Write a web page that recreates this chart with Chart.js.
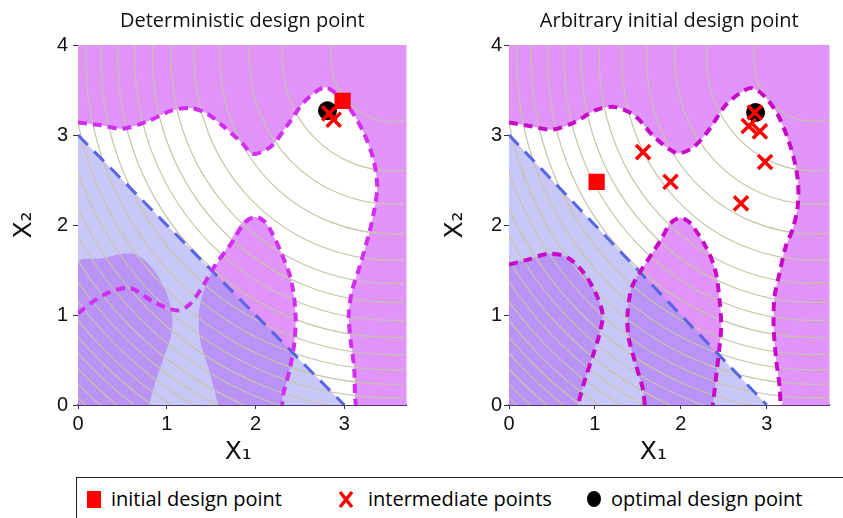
<!DOCTYPE html>
<html>
<head>
<meta charset="utf-8">
<script src="https://cdn.jsdelivr.net/npm/chart.js@4.4.0/dist/chart.umd.min.js"></script>
<style>
  body { margin: 0; width: 843px; height: 518px; overflow: hidden; background: #fff; position: relative; }
  #graficoEsq { position: absolute; left: 0; top: 0; }
  #graficoDir { position: absolute; left: 420px; top: 0; }
  #legenda { position: absolute; left: 76px; top: 477px; width: 800px; height: 60px; border: 1px solid #222; box-sizing: border-box; }
  #legenda .item { position: absolute; top: 8px; font-family: 'Open Sans', sans-serif; font-size: 20px; color: #000; line-height: 26px; white-space: nowrap; }
  #legenda .quadrado { position: absolute; top: 13px; width: 14px; height: 17px; background: #ff0000; }
  #legenda .circulo { position: absolute; top: 13px; width: 14px; height: 16px; border-radius: 50%; background: #000; }
  #legenda svg { position: absolute; top: 12px; }
</style>
</head>
<body>
<canvas id="graficoEsq" width="420" height="470"></canvas>
<canvas id="graficoDir" width="423" height="470"></canvas>
<div id="legenda">
  <span class="quadrado" style="left:10px"></span>
  <span class="item" style="left:34px">initial design point</span>
  <svg style="left:261px" width="16" height="19"><path d="M2 2 L14 17 M14 2 L2 17" stroke="#ff0000" stroke-width="3.4" fill="none"/></svg>
  <span class="item" style="left:291px">intermediate points</span>
  <span class="circulo" style="left:510px"></span>
  <span class="item" style="left:534px">optimal design point</span>
</div>
<script>
// curvas de nivel da funcao objetivo (circulos)
const centroNivel = [3.55, 3.85]
const raiosNivel = [0.70, 1.25, 1.62, 1.95, 2.24, 2.50, 2.71, 2.91, 3.10, 3.29, 3.46, 3.62, 3.77, 3.92, 4.06, 4.20, 4.33, 4.46, 4.59, 4.71, 4.83, 4.95, 5.07, 5.18, 5.29]

const retaAzul = [[0, 3], [3, 0]]
const trianguloAzul = [[0, 0], [0, 3], [3, 0]]

// painel esquerdo
const esqTopo = [[0, 3.14], [0.25, 3.11], [0.50, 3.07], [0.78, 3.15], [1.05, 3.27], [1.26, 3.30], [1.45, 3.24], [1.62, 3.11], [1.84, 2.92], [1.97, 2.79], [2.17, 2.87], [2.36, 3.11], [2.55, 3.37], [2.77, 3.53], [2.88, 3.48], [3.07, 3.28], [3.22, 3.02], [3.33, 2.72], [3.37, 2.42], [3.33, 2.13]]
const esqDireita = [[3.28, 1.91], [3.17, 1.53], [3.09, 1.28], [3.05, 1.02], [3.07, 0.72], [3.11, 0.42], [3.12, 0.09], [3.13, 0]]
const esqLobuloA = [[0, 0], [0, 1.58], [0.28, 1.63], [0.50, 1.68], [0.66, 1.67], [0.84, 1.52], [0.99, 1.26], [1.06, 1.0], [1.05, 0.78], [0.95, 0.48], [0.86, 0.22], [0.80, 0]]
const esqLobuloB = [[1.58, 0], [1.55, 0.11], [1.47, 0.41], [1.38, 0.70], [1.36, 1.0], [1.40, 1.22], [1.51, 1.48], [1.66, 1.72], [1.81, 1.98], [1.92, 2.08], [2.0, 2.09], [2.10, 2.04], [2.17, 1.94], [2.29, 1.69], [2.40, 1.39], [2.45, 1.02], [2.44, 0.72], [2.39, 0.42], [2.31, 0.11], [2.30, 0]]
const esqLimiteLobulo = [[0, 1.02], [0.28, 1.22], [0.58, 1.30], [0.86, 1.14], [1.12, 1.05], [1.26, 1.12], [1.38, 1.28], [1.55, 1.56], [1.73, 1.80], [1.88, 2.03], [2.0, 2.09], [2.10, 2.04], [2.17, 1.94], [2.29, 1.69], [2.40, 1.39], [2.45, 1.02], [2.44, 0.72], [2.39, 0.42], [2.31, 0.11], [2.30, 0]]
const esqInicial = [[2.98, 3.38]]
const esqIntermediarios = [[2.83, 3.24], [2.88, 3.17]]
const esqOtimo = [[2.81, 3.27]]

// painel direito
const dirTopo = [[0, 3.14], [0.24, 3.10], [0.50, 3.06], [0.76, 3.14], [1.02, 3.28], [1.24, 3.31], [1.47, 3.21], [1.69, 2.98], [1.95, 2.80], [2.14, 2.86], [2.33, 3.06], [2.53, 3.34], [2.80, 3.52], [2.94, 3.46], [3.12, 3.24], [3.28, 2.86], [3.36, 2.51], [3.36, 2.21]]
const dirDireita = [[3.30, 1.95], [3.22, 1.76], [3.15, 1.47], [3.09, 1.20], [3.08, 0.87], [3.11, 0.50], [3.15, 0.20], [3.16, 0]]
const dirLobuloA = [[0, 0], [0, 1.56], [0.20, 1.61], [0.46, 1.68], [0.68, 1.64], [0.87, 1.47], [1.02, 1.22], [1.09, 1.0], [1.05, 0.78], [0.98, 0.56], [0.89, 0.30], [0.81, 0.03], [0.80, 0]]
const dirLobuloB = [[1.58, 0], [1.56, 0.17], [1.47, 0.47], [1.39, 0.76], [1.38, 1.02], [1.43, 1.31], [1.54, 1.50], [1.67, 1.69], [1.77, 1.84], [1.88, 2.02], [1.99, 2.08], [2.10, 2.03], [2.29, 1.76], [2.40, 1.50], [2.45, 1.17], [2.47, 0.87], [2.45, 0.65], [2.42, 0.39], [2.38, 0.06], [2.37, 0]]
const dirInicial = [[1.02, 2.48]]
const dirIntermediarios = [[1.56, 2.81], [1.88, 2.48], [2.70, 2.24], [2.98, 2.70], [2.92, 3.04], [2.79, 3.10], [2.86, 3.25]]
const dirOtimo = [[2.87, 3.25]]

const corInviavel = '#e194f9'

function pontos(lista) {
  return lista.map(p => ({ x: p[0], y: p[1] }))
}

const fundo = {
  id: 'fundo',
  beforeDatasetsDraw(chart) {
    const { ctx, chartArea: a } = chart
    ctx.save()
    ctx.fillStyle = corInviavel
    ctx.fillRect(a.left, a.top, a.width, a.height)
    ctx.restore()
  }
}

const curvasNivel = {
  id: 'curvasNivel',
  afterDatasetDraw(chart, args) {
    if (chart.data.datasets[args.index].label !== 'regiao azul') return
    const { ctx, chartArea: a, scales: { x, y } } = chart
    const cx = x.getPixelForValue(centroNivel[0])
    const cy = y.getPixelForValue(centroNivel[1])
    ctx.save()
    ctx.beginPath()
    ctx.rect(a.left, a.top, a.width, a.height)
    ctx.clip()
    ctx.strokeStyle = 'rgb(200,196,170)'
    ctx.lineWidth = 1.2
    raiosNivel.forEach(r => {
      const rx = x.getPixelForValue(centroNivel[0] + r) - cx
      const ry = cy - y.getPixelForValue(centroNivel[1] + r)
      ctx.beginPath()
      ctx.ellipse(cx, cy, rx, ry, 0, 0, Math.PI * 2)
      ctx.stroke()
    })
    ctx.restore()
  }
}

function regiao(label, lista, cor, tensao, ordem) {
  return { label: label, data: pontos(lista), fill: 'shape', backgroundColor: cor, borderColor: 'rgba(0,0,0,0)', borderWidth: 0, pointRadius: 0, tension: tensao, order: ordem }
}

function tracejado(lista, cor, largura, traco, tensao, ordem) {
  return { label: 'limite', data: pontos(lista), fill: false, borderColor: cor, borderWidth: largura, borderDash: traco, pointRadius: 0, tension: tensao, order: ordem }
}

function criaGrafico(id, p) {
  const datasets = [
    { label: 'intermediate points', data: pontos(p.intermediarios), showLine: false, pointStyle: 'crossRot', pointRadius: 10, pointBorderWidth: 3.5, borderColor: '#ff0000', backgroundColor: '#ff0000', order: 0 },
    { label: 'optimal design point', data: pontos(p.otimo), showLine: false, pointStyle: 'circle', pointRadius: 9, pointBorderWidth: 1, borderColor: '#000', backgroundColor: '#000', order: 1 },
    { label: 'initial design point', data: pontos(p.inicial), showLine: false, pointStyle: 'rect', pointRadius: 11.5, pointBorderWidth: 0, borderColor: '#ff0000', backgroundColor: '#ff0000', order: 2 },
    ...p.tracejados.map(t => tracejado(t, p.corTracejado, 4, [9, 6], 0.3, 3)),
    tracejado(retaAzul, '#5a64e6', 3, [14, 9], 0, 4),
    regiao('regiao azul', trianguloAzul, 'rgba(145,145,241,0.5)', 0, 5),
    ...p.lobulos.map(l => regiao('lobulo', l, corInviavel, 0.3, 6)),
    regiao('viavel', p.viavel, '#ffffff', 0.3, 7)
  ]

  return new Chart(document.getElementById(id), {
    type: 'line',
    data: { datasets: datasets },
    plugins: [fundo, curvasNivel],
    options: {
      responsive: false,
      animation: false,
      events: [],
      devicePixelRatio: 1,
      layout: { padding: { left: 0, right: p.margemDir, top: 0, bottom: 0 } },
      plugins: {
        legend: { display: false },
        tooltip: { enabled: false },
        title: {
          display: true,
          text: p.titulo,
          fullSize: false,
          color: '#111',
          font: { family: 'Open Sans', size: 20, weight: 'normal' },
          padding: { top: 9, bottom: 12 }
        }
      },
      scales: {
        x: {
          type: 'linear',
          min: 0,
          max: p.xMax,
          z: 1,
          afterFit: s => { s.height = 65 },
          ticks: { stepSize: 1, includeBounds: false, padding: 3, color: '#111', font: { family: 'Liberation Sans', size: 20 } },
          grid: { drawOnChartArea: false, tickLength: 4, color: '#333' },
          border: { display: true, color: '#4a3a7a', width: 2 },
          title: { display: true, text: p.tituloX, color: '#111', font: { family: 'DejaVu Sans', size: 25 }, padding: { bottom: 3 } }
        },
        y: {
          type: 'linear',
          min: 0,
          max: 4,
          afterFit: s => { s.width = p.larguraY },
          ticks: { stepSize: 1, padding: p.folgaY, color: '#111', font: { family: 'Liberation Sans', size: 20 } },
          grid: { drawOnChartArea: false, tickLength: 5, color: '#333' },
          border: { display: false },
          title: { display: true, text: 'X\u2082', color: '#111', font: { family: 'DejaVu Sans', size: 25 }, padding: { top: p.tituloYTopo } }
        }
      }
    }
  })
}

criaGrafico('graficoEsq', {
  titulo: 'Deterministic design point',
  tituloX: 'X\u2081 ',
  xMax: 3.7,
  margemDir: 10,
  larguraY: 78,
  folgaY: 5,
  tituloYTopo: 9,
  corTracejado: '#d22df2',
  viavel: esqTopo.concat(esqDireita, [[0, 0]]),
  lobulos: [esqLobuloA, esqLobuloB],
  tracejados: [esqTopo.concat(esqDireita), esqLimiteLobulo],
  inicial: esqInicial,
  intermediarios: esqIntermediarios,
  otimo: esqOtimo
})

criaGrafico('graficoDir', {
  titulo: 'Arbitrary initial design point',
  tituloX: 'X\u2081    ',
  xMax: 3.73,
  margemDir: 1,
  larguraY: 89,
  folgaY: 2,
  tituloYTopo: 20,
  corTracejado: '#c80ac8',
  viavel: dirTopo.concat(dirDireita, [[0, 0]]),
  lobulos: [dirLobuloA, dirLobuloB],
  tracejados: [dirTopo.concat(dirDireita), dirLobuloA.slice(1), dirLobuloB],
  inicial: dirInicial,
  intermediarios: dirIntermediarios,
  otimo: dirOtimo
})
</script>
</body>
</html>
